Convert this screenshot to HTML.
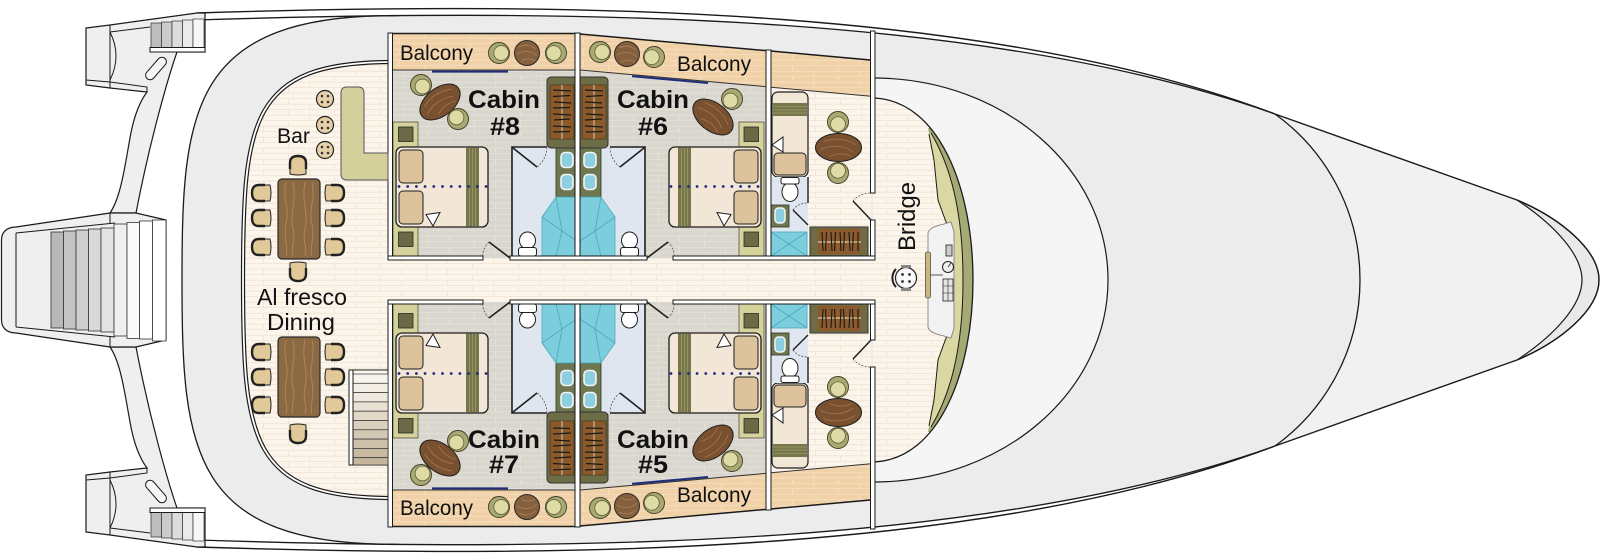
<!DOCTYPE html>
<html><head><meta charset="utf-8">
<style>
html,body{margin:0;padding:0;background:#fff;}
svg{display:block;}
text{font-family:"Liberation Sans",sans-serif;fill:#111;}
</style></head><body>
<svg width="1600" height="560" viewBox="0 0 1600 560" xmlns="http://www.w3.org/2000/svg">
<defs>
<pattern id="pc" width="46" height="11" patternUnits="userSpaceOnUse">
<rect width="46" height="11" fill="#fbf5ec"/>
<rect y="4.8" width="46" height="0.8" fill="#efe3d2"/>
<rect y="10.3" width="46" height="0.8" fill="#efe3d2"/>
<rect x="12" y="0" width="0.8" height="5" fill="#efe3d2"/>
<rect x="33" y="5.5" width="0.8" height="5" fill="#efe3d2"/>
</pattern>
<pattern id="pf" width="46" height="11" patternUnits="userSpaceOnUse">
<rect width="46" height="11" fill="#d9d6ce"/>
<rect y="4.8" width="46" height="0.9" fill="#e5e2db"/>
<rect y="10.3" width="46" height="0.9" fill="#e5e2db"/>
<rect x="14" y="0" width="0.9" height="5" fill="#e5e2db"/>
<rect x="35" y="5.5" width="0.9" height="5" fill="#e5e2db"/>
</pattern>
<pattern id="pb" width="46" height="11" patternUnits="userSpaceOnUse">
<rect width="46" height="11" fill="#f1d2a8"/>
<rect y="4.8" width="46" height="0.9" fill="#f6dfc2"/>
<rect y="10.3" width="46" height="0.9" fill="#f6dfc2"/>
<rect x="10" y="0" width="0.9" height="5" fill="#f6dfc2"/>
<rect x="31" y="5.5" width="0.9" height="5" fill="#f6dfc2"/>
</pattern>

<g id="tc">
<path d="M8,-8 L-3,-8 Q-10,-8 -10,0 Q-10,8 -3,8 L8,8 Q10,0 8,-8 Z" fill="#e2c99a" stroke="#222" stroke-width="1"/>
<path d="M3,-8 L-3,-8 Q-10,-8 -10,0 Q-10,8 -3,8 L3,8" fill="none" stroke="#222" stroke-width="2.4"/>
</g>
<g id="oc">
<circle r="10.5" fill="#a9a870" stroke="#3d3d28" stroke-width="0.9"/>
<circle cx="2.2" r="7.4" fill="#dedba5" stroke="#555538" stroke-width="0.7"/>
</g>
<g id="st">
<circle r="8.5" fill="#e6d0a8" stroke="#222" stroke-width="1.2"/>
<circle cx="-3" cy="-3" r="1.3" fill="#333"/><circle cx="3" cy="-3" r="1.3" fill="#333"/>
<circle cx="-3" cy="3" r="1.3" fill="#333"/><circle cx="3" cy="3" r="1.3" fill="#333"/>
</g>
<g id="bt">
<circle r="12.5" fill="#85603d" stroke="#2a2a2a" stroke-width="1"/>
<path d="M-8,-6 C-2,-9 4,-8 9,-4 M-10,1 C-3,-3 5,-2 10,3 M-6,8 C0,5 5,6 8,8" fill="none" stroke="#a98058" stroke-width="0.8"/>
</g>
<g id="ct">
<ellipse rx="23" ry="14" fill="#7a5130" stroke="#1e1e1e" stroke-width="1"/>
<path d="M-15,-6 C-5,-10 7,-9 17,-3 M-18,2 C-8,-3 6,-2 14,4 M-9,9 C-1,5 8,6 13,9" fill="none" stroke="#a37650" stroke-width="0.8"/>
</g>
<g id="dt">
<rect x="0" y="0" width="42" height="80" rx="4" fill="#8b6943" stroke="#2a2a2a" stroke-width="1.2"/>
<path d="M8,3 C4,20 12,30 8,45 C5,60 11,70 8,77 M15,3 C19,22 11,35 15,50 C18,62 12,70 15,77 M27,3 C23,22 31,35 27,50 C24,62 30,70 27,77 M34,3 C38,20 30,30 34,45 C37,60 31,70 34,77" fill="none" stroke="#b3865a" stroke-width="0.9"/>
</g>

<g id="core">
<rect x="393" y="122" width="25" height="134" fill="#d5d29e" stroke="#55553a" stroke-width="0.8"/>
<rect x="398.5" y="127" width="14.5" height="14.5" fill="#6b6a47" stroke="#2a2a20" stroke-width="0.8"/>
<rect x="398.5" y="232" width="14.5" height="14.5" fill="#6b6a47" stroke="#2a2a20" stroke-width="0.8"/>
<rect x="396" y="147" width="92" height="80" rx="6" fill="#f2e7d6" stroke="#1e1e1e" stroke-width="1.3"/>
<rect x="466" y="147.7" width="13" height="78.6" fill="#77764a"/>
<path d="M469.5,148 V226 M472.5,148 V226 M475.5,148 V226" stroke="#9c9b6a" stroke-width="0.8"/>
<rect x="399" y="150" width="24" height="33" rx="4" fill="#dcc39b" stroke="#1e1e1e" stroke-width="1"/>
<rect x="399" y="191" width="24" height="33" rx="4" fill="#dcc39b" stroke="#1e1e1e" stroke-width="1"/>
<line x1="399" y1="186.5" x2="487" y2="186.5" stroke="#1c2a7c" stroke-width="2.8" stroke-linecap="round" stroke-dasharray="0 8.7"/>
<path d="M426,214.5 L440,212.5 L433,226 Z" fill="#fff" stroke="#1e1e1e" stroke-width="1"/>
<rect x="512" y="147" width="65" height="110" fill="#dfe6ef"/>
<rect x="556" y="148" width="21" height="49" fill="#6e7750" stroke="#2e3320" stroke-width="0.8"/>
<rect x="561" y="152.5" width="12" height="15" rx="4" fill="#8dcfe0" stroke="#f4f4f4" stroke-width="1.6"/>
<rect x="561" y="174.5" width="12" height="15" rx="4" fill="#8dcfe0" stroke="#f4f4f4" stroke-width="1.6"/>
<path d="M542,217 L556,197 L577,197 L577,256 L542,256 Z" fill="#7dcedd" stroke="#49a9bb" stroke-width="0.8"/>
<path d="M556,197 L562,231 L577,241 M542,217 L562,231 L556,256" fill="none" stroke="#49a9bb" stroke-width="0.8"/>
<ellipse cx="527.5" cy="240.5" rx="8" ry="8.5" fill="#fff" stroke="#1e1e1e" stroke-width="1"/>
<rect x="518.5" y="247.5" width="18" height="8.5" rx="2.5" fill="#fff" stroke="#1e1e1e" stroke-width="1"/>
<path d="M512,257 L512,147 L547,147" fill="none" stroke="#1e1e1e" stroke-width="1.6"/>
<line x1="513" y1="148" x2="537" y2="167" stroke="#1e1e1e" stroke-width="1.6"/>
<path d="M537,167 Q546,160 547,148" fill="none" stroke="#555" stroke-width="0.8" stroke-dasharray="2 1.5"/>
<line x1="510" y1="258" x2="489" y2="242" stroke="#1e1e1e" stroke-width="1.6"/>
<path d="M489,242 Q482,249 483,258" fill="none" stroke="#555" stroke-width="0.8" stroke-dasharray="2 1.5"/>
</g>

<g id="U">
<rect x="771" y="86" width="100" height="172" fill="url(#pc)"/>
<rect x="392" y="34" width="183" height="36" fill="url(#pb)"/>
<polygon points="580,34 766,50.6 766,86.7 580,70" fill="url(#pb)"/>
<polygon points="771,51 871,60 871,96.2 771,87.2" fill="url(#pb)"/>
<rect x="392" y="70" width="183" height="188" fill="url(#pf)"/>
<polygon points="580,70 766,86.7 766,258 580,258" fill="url(#pf)"/>
<line x1="388" y1="33.5" x2="577" y2="33.5" stroke="#1a1a1a" stroke-width="1.6"/>
<line x1="577" y1="33.8" x2="768" y2="50.8" stroke="#1a1a1a" stroke-width="1.5"/>
<line x1="768" y1="50.8" x2="873" y2="60.2" stroke="#1a1a1a" stroke-width="1.5"/>
<line x1="392" y1="70" x2="575" y2="70" stroke="#333" stroke-width="1"/>
<line x1="580" y1="70" x2="766" y2="86.7" stroke="#333" stroke-width="1"/>
<line x1="771" y1="87.2" x2="871" y2="96.2" stroke="#333" stroke-width="1"/>
<line x1="432" y1="71.6" x2="508" y2="71.6" stroke="#1f2d78" stroke-width="2"/>
<line x1="632" y1="76.2" x2="708" y2="83" stroke="#1f2d78" stroke-width="2"/>
<use href="#core"/>
<use href="#core" transform="translate(1157,0) scale(-1,1)"/>
<rect x="547" y="77" width="61" height="71" rx="4" fill="#6d6c46" stroke="#333" stroke-width="1"/>
<rect x="550" y="85" width="24" height="54" fill="#8b5a2c" stroke="#3a2a1a" stroke-width="0.6"/>
<rect x="582" y="85" width="24" height="54" fill="#8b5a2c" stroke="#3a2a1a" stroke-width="0.6"/>
<path d="M562,85 V139 M594,85 V139" stroke="#dcc9a3" stroke-width="1"/>
<path d="M553,90 L571,91 M553,96.5 L570,95.5 M554,102 L571,103 M553,108 L570,107.5 M553,114 L571,115 M554,120 L570,119 M553,126 L571,127 M553,132 L570,131.5 M585,90 L603,91 M586,96.5 L603,95.5 M585,102 L602,103 M585,108 L603,107.5 M586,114 L603,115 M585,120 L602,119 M585,126 L603,127 M586,132 L603,131.5" stroke="#1a1a1a" stroke-width="1.2"/>
<use href="#ct" transform="translate(440,102) rotate(-38)"/>
<use href="#oc" transform="translate(421,85) rotate(45)"/>
<use href="#oc" transform="translate(458,119) rotate(225)"/>
<use href="#ct" transform="translate(713,117) rotate(38)"/>
<use href="#oc" transform="translate(732,99) rotate(135)"/>
<use href="#oc" transform="translate(499,53)"/>
<use href="#bt" transform="translate(527,53)"/>
<use href="#oc" transform="translate(556,53) rotate(180)"/>
<use href="#oc" transform="translate(600,52)"/>
<use href="#bt" transform="translate(627,54)"/>
<use href="#oc" transform="translate(654,57) rotate(175)"/>
<rect x="772" y="92" width="36" height="85" rx="6" fill="#f2e7d6" stroke="#1e1e1e" stroke-width="1.2"/>
<rect x="773" y="103" width="34" height="13" fill="#77764a"/>
<path d="M773,106.5 H807 M773,110 H807 M773,113 H807" stroke="#9c9b6a" stroke-width="0.8"/>
<rect x="774" y="153" width="32" height="22" rx="4" fill="#dcc39b" stroke="#1e1e1e" stroke-width="1"/>
<path d="M772,145 L783,137 L783,152 Z" fill="#fff" stroke="#1e1e1e" stroke-width="1"/>
<rect x="771" y="177" width="37" height="80" fill="#dfe6ef"/>
<ellipse cx="790" cy="192" rx="8" ry="9.5" fill="#fff" stroke="#1e1e1e" stroke-width="1"/>
<rect x="781" y="177.5" width="18" height="6.5" rx="2" fill="#fff" stroke="#1e1e1e" stroke-width="1"/>
<rect x="771" y="205" width="18" height="22" fill="#6e7750" stroke="#2e3320" stroke-width="0.8"/>
<rect x="775" y="208" width="10" height="15" rx="3.5" fill="#8dcfe0" stroke="#f4f4f4" stroke-width="1.5"/>
<rect x="771" y="232" width="36" height="24" fill="#7dcedd" stroke="#49a9bb" stroke-width="0.8"/>
<path d="M771,232 L807,256 M807,232 L771,256" stroke="#49a9bb" stroke-width="0.8"/>
<line x1="808" y1="177" x2="808" y2="203" stroke="#1e1e1e" stroke-width="1.4"/>
<line x1="793" y1="210" x2="808" y2="225" stroke="#1e1e1e" stroke-width="1.4"/>
<path d="M793,210 Q798,203 808,203" fill="none" stroke="#555" stroke-width="0.8" stroke-dasharray="2 1.5"/>
<rect x="810" y="227" width="58" height="29" fill="#6d6c46" stroke="#333" stroke-width="1"/>
<rect x="818" y="229" width="43" height="25" fill="#8b5a2c"/>
<line x1="818" y1="242" x2="861" y2="242" stroke="#dcc9a3" stroke-width="1.2"/>
<path d="M822,232 L823,251 M826.5,232 L825.5,251 M831,232 L832,251 M835.5,232 L834.5,251 M840,232 L841,251 M844.5,232 L843.5,251 M849,232 L850,251 M853.5,232 L852.5,251 M858,232 L858,251" stroke="#1a1a1a" stroke-width="1.1"/>
<use href="#ct" transform="translate(838.5,147.5)"/>
<use href="#oc" transform="translate(838,122) rotate(90)"/>
<use href="#oc" transform="translate(838,173) rotate(-90)"/>
<rect x="388" y="33" width="4.5" height="227" fill="#fff" stroke="#1a1a1a" stroke-width="1"/>
<rect x="575" y="33" width="5" height="227" fill="#fff" stroke="#1a1a1a" stroke-width="1"/>
<rect x="766" y="50" width="5" height="210" fill="#fff" stroke="#1a1a1a" stroke-width="1"/>
<rect x="870.5" y="31" width="4.5" height="162" fill="#fff" stroke="#1a1a1a" stroke-width="1"/>
<rect x="870.5" y="220" width="4.5" height="40" fill="#fff" stroke="#1a1a1a" stroke-width="1"/>
<rect x="388" y="256" width="95" height="4" fill="#fff" stroke="#1a1a1a" stroke-width="1"/>
<rect x="510" y="256" width="137" height="4" fill="#fff" stroke="#1a1a1a" stroke-width="1"/>
<rect x="673" y="256" width="202" height="4" fill="#fff" stroke="#1a1a1a" stroke-width="1"/>
<line x1="871" y1="220" x2="853" y2="201" stroke="#1e1e1e" stroke-width="1.5"/>
<path d="M853,201 Q860,193 871,193" fill="none" stroke="#555" stroke-width="0.8" stroke-dasharray="2 1.5"/>
</g>

<g id="wing">
<path d="M86,28 L110,25 L197,13 L205,13 L205,52 L177,52 C168,78 150,140 136,213 L110,213 C121,197 125,165 130,138 C134,115 141,100 147,92 L110,88 L86,85 Z" fill="#efefef" stroke="#1a1a1a" stroke-width="1.2"/>
<path d="M110,25 V88 M86,80 L110,82 L147,87 V92 M110,32 L150,27" fill="none" stroke="#1a1a1a" stroke-width="1"/>
<path d="M110,32 Q122,56 110,80" fill="none" stroke="#1a1a1a" stroke-width="1"/>
<rect x="151" y="23" width="10.5" height="25" fill="#bdbdbd" stroke="#333" stroke-width="0.7"/>
<rect x="161.5" y="22" width="10.5" height="26" fill="#cbcbcb" stroke="#333" stroke-width="0.7"/>
<rect x="172" y="21" width="10.5" height="27" fill="#dcdcdc" stroke="#333" stroke-width="0.7"/>
<rect x="182.5" y="20" width="10.5" height="28" fill="#eaeaea" stroke="#333" stroke-width="0.7"/>
<rect x="193" y="19" width="11" height="29" fill="#f7f7f7" stroke="#333" stroke-width="0.7"/>
<rect x="150" y="47.5" width="55" height="4.5" fill="#fff" stroke="#1a1a1a" stroke-width="1"/>
<rect x="151.5" y="55" width="9" height="27" rx="4.5" transform="rotate(41 156 68.5)" fill="#f6f6f6" stroke="#1a1a1a" stroke-width="1"/>
</g>
<clipPath id="cc"><polygon points="928,128 1000,128 1000,432 928,432 934,400 938,360 946,338 949,330 952,280 949,230 946,222 938,200 934,160"/></clipPath>
<clipPath id="cb"><path d="M873,98 C940,100 973,190 973,280 C973,370 940,460 873,462 Z"/></clipPath>
</defs>

<!-- bow -->
<path d="M1275,114 L1517,200 C1560,218 1599,250 1599,280 C1599,310 1560,342 1517,360 L1275,446 Z" fill="#f1f1f1"/>
<path d="M1517,200 C1560,218 1599,250 1599,280 C1599,310 1560,342 1517,360 C1555,335 1582,305 1582,280 C1582,255 1555,225 1517,200 Z" fill="#e9e9e9" stroke="#1a1a1a" stroke-width="1.2"/>
<!-- main deck -->
<path d="M399,15.6 C730.9,12.5 1046.2,32.5 1275,114 C1325,150 1360,210 1360,280 C1360,350 1325,410 1275,446 C1046.2,527.5 730.9,547.5 399,544.4 C190,546 182,450 182,280 C182,110 190,14 399,15.6 Z" fill="#ececec"/>
<path d="M873,78 C1005,78 1108,170 1108,280 C1108,390 1005,482 873,482 Z" fill="#f5f5f5"/>
<path d="M873,78 C1005,78 1108,170 1108,280 C1108,390 1005,482 873,482" fill="none" stroke="#1a1a1a" stroke-width="1.2"/>
<!-- hull band -->
<path d="M197,13 C600,0 1000,10 1275,114 C1000,16 600,7 197,20 Z" fill="#fff"/>
<path d="M197,547 C600,560 1000,550 1275,446 C1000,544 600,553 197,540 Z" fill="#fff"/>
<path d="M197,13 C600,0 1000,10 1275,114 L1517,200 C1560,218 1599,250 1599,280 C1599,310 1560,342 1517,360 L1275,446 C1000,550 600,560 197,547" fill="none" stroke="#1a1a1a" stroke-width="1.4"/>
<path d="M197,20 C600,7 1000,16 1275,114 C1325,150 1360,210 1360,280 C1360,350 1325,410 1275,446 C1000,544 600,553 197,540" fill="none" stroke="#1a1a1a" stroke-width="1.3"/>
<path d="M399,15.6 C190,14 182,110 182,280 C182,450 190,546 399,544.4" fill="none" stroke="#1a1a1a" stroke-width="1.3"/>

<!-- cream decks -->
<path d="M392,62 C250,62 243,120 243,280 C243,440 250,498 392,498 Z" fill="url(#pc)"/>
<path d="M392,62 C250,62 243,120 243,280 C243,440 250,498 392,498" fill="none" stroke="#1a1a1a" stroke-width="4.2"/>
<path d="M392,62 C250,62 243,120 243,280 C243,440 250,498 392,498" fill="none" stroke="#fff" stroke-width="1.8"/>
<rect x="388" y="256" width="490" height="48" fill="url(#pc)"/>
<path d="M873,98 C940,100 973,190 973,280 C973,370 940,460 873,462 Z" fill="url(#pc)"/>
<!-- console -->
<g clip-path="url(#cc)">
<g clip-path="url(#cb)">
<rect x="900" y="120" width="90" height="320" fill="#a5a974"/>
<path d="M931,133 C950,165 963,210 963,280 C963,350 950,395 931,427 L900,427 L900,133 Z" fill="#dad7a2"/>
</g>
</g>
<path d="M931,133 C950,165 963,210 963,280 C963,350 950,395 931,427" fill="none" stroke="#1a1a1a" stroke-width="1"/>
<path d="M929,134 L934,160 L938,200 L946,222 L949,230 L952,280 L949,330 L946,338 L938,360 L934,400 L929,426" fill="none" stroke="#1a1a1a" stroke-width="1"/>
<path d="M873,98 C940,100 973,190 973,280 C973,370 940,460 873,462" fill="none" stroke="#1a1a1a" stroke-width="1.3"/>
<path d="M928,233 C929,228 936,226 944,224 L951,222 L954,232 L954,328 L951,338 L944,336 C936,334 929,332 928,327 Z" fill="#f2f2f2" stroke="#777" stroke-width="0.8"/>
<rect x="925.5" y="252" width="5" height="46" rx="2" fill="#cdb483" stroke="#554" stroke-width="0.8"/>
<line x1="930" y1="275" x2="943" y2="275" stroke="#555" stroke-width="1"/>
<circle cx="948" cy="267" r="5.5" fill="#eee" stroke="#222" stroke-width="1"/>
<line x1="948" y1="267" x2="951" y2="263" stroke="#222" stroke-width="0.8"/>
<rect x="946" y="245" width="6" height="11" fill="#ccc" stroke="#222" stroke-width="0.8"/>
<rect x="943" y="279" width="10" height="22" fill="#e6e6e6" stroke="#222" stroke-width="0.8"/>
<path d="M943,286 H953 M943,293 H953 M948,279 V301" stroke="#222" stroke-width="0.6"/>
<circle cx="906" cy="278" r="10.5" fill="#fafafa" stroke="#222" stroke-width="1.2"/>
<circle cx="902.5" cy="274.5" r="1.4" fill="#333"/><circle cx="909.5" cy="274.5" r="1.4" fill="#333"/>
<circle cx="902.5" cy="281.5" r="1.4" fill="#333"/><circle cx="909.5" cy="281.5" r="1.4" fill="#333"/>
<path d="M896,269 A13,13 0 0 0 896,287" fill="none" stroke="#222" stroke-width="2"/>
<rect x="901" y="265" width="10" height="3" fill="#888"/>
<rect x="901" y="288" width="10" height="3" fill="#888"/>

<!-- cabins -->
<use href="#U"/>
<use href="#U" transform="translate(0,560) scale(1,-1)"/>

<!-- bar & dining -->
<path d="M347,87 L358,87 Q364,87 364,93 L364,153 L388,153 L388,180 L347,180 Q341,180 341,174 L341,93 Q341,87 347,87 Z" fill="#d4d09c" stroke="#555" stroke-width="1"/>
<use href="#st" transform="translate(325,99)"/>
<use href="#st" transform="translate(325,125)"/>
<use href="#st" transform="translate(325,150)"/>
<use href="#dt" transform="translate(278,179)"/>
<use href="#tc" transform="translate(262,193)"/>
<use href="#tc" transform="translate(262,218)"/>
<use href="#tc" transform="translate(262,247)"/>
<use href="#tc" transform="translate(334,193) rotate(180)"/>
<use href="#tc" transform="translate(334,218) rotate(180)"/>
<use href="#tc" transform="translate(334,247) rotate(180)"/>
<use href="#tc" transform="translate(298,166) rotate(90)"/>
<use href="#tc" transform="translate(298,271) rotate(-90)"/>
<use href="#dt" transform="translate(278,337)"/>
<use href="#tc" transform="translate(262,352)"/>
<use href="#tc" transform="translate(262,377)"/>
<use href="#tc" transform="translate(262,405)"/>
<use href="#tc" transform="translate(334,352) rotate(180)"/>
<use href="#tc" transform="translate(334,377) rotate(180)"/>
<use href="#tc" transform="translate(334,405) rotate(180)"/>
<use href="#tc" transform="translate(298,433) rotate(-90)"/>

<!-- deck stairs -->
<rect x="353" y="370" width="35" height="95" fill="#fbf8f2" stroke="#1a1a1a" stroke-width="1"/>
<rect x="353" y="374" width="35" height="9.3" fill="#f7f4ee" stroke="#333" stroke-width="0.7"/>
<rect x="353" y="383.3" width="35" height="9.3" fill="#f3efe7" stroke="#333" stroke-width="0.7"/>
<rect x="353" y="392.6" width="35" height="9.3" fill="#eee8de" stroke="#333" stroke-width="0.7"/>
<rect x="353" y="401.9" width="35" height="9.3" fill="#e8e1d4" stroke="#333" stroke-width="0.7"/>
<rect x="353" y="411.2" width="35" height="9.3" fill="#e1d8c8" stroke="#333" stroke-width="0.7"/>
<rect x="353" y="420.5" width="35" height="9.3" fill="#dad0bd" stroke="#333" stroke-width="0.7"/>
<rect x="353" y="429.8" width="35" height="9.3" fill="#d3c8b3" stroke="#333" stroke-width="0.7"/>
<rect x="353" y="439.1" width="35" height="9.3" fill="#cdc0a9" stroke="#333" stroke-width="0.7"/>
<rect x="353" y="448.4" width="35" height="9.3" fill="#c8baa1" stroke="#333" stroke-width="0.7"/>
<rect x="353" y="457.7" width="35" height="7.3" fill="#c4b59b" stroke="#333" stroke-width="0.7"/>
<rect x="349" y="370" width="4" height="95" fill="#fff" stroke="#1a1a1a" stroke-width="1"/>

<!-- stern -->
<use href="#wing"/>
<use href="#wing" transform="translate(0,560) scale(1,-1)"/>
<path d="M16,227 L110,213 L136,213 L166,220 L166,340 L136,347 L110,347 L16,333 C7,333 1.5,328 1.5,320 L1.5,240 C1.5,232 7,227 16,227 Z" fill="#efefef" stroke="#1a1a1a" stroke-width="1.2"/>
<path d="M16,233 L115,223 M16,327 L115,337 M16,233 V327 M110,213 V223 M110,337 V347" fill="none" stroke="#1a1a1a" stroke-width="1"/>
<rect x="51" y="232" width="12.5" height="96" fill="#b8b8b8" stroke="#333" stroke-width="0.8"/>
<rect x="63.5" y="231" width="12.5" height="98" fill="#c4c4c4" stroke="#333" stroke-width="0.8"/>
<rect x="76" y="230" width="12.5" height="100" fill="#cfcfcf" stroke="#333" stroke-width="0.8"/>
<rect x="88.5" y="229" width="12.5" height="102" fill="#d9d9d9" stroke="#333" stroke-width="0.8"/>
<rect x="101" y="228" width="13" height="104" fill="#e3e3e3" stroke="#333" stroke-width="0.8"/>
<rect x="114" y="224" width="13" height="112" fill="#efefef" stroke="#333" stroke-width="0.8"/>
<rect x="127" y="222.5" width="12.5" height="116" fill="#fafafa" stroke="#333" stroke-width="0.8"/>
<rect x="139.5" y="221" width="13" height="118" fill="#fff" stroke="#333" stroke-width="0.8"/>
<rect x="152.5" y="220" width="13.5" height="121" fill="#fff" stroke="#333" stroke-width="0.8"/>

<!-- labels -->
<text x="400" y="60" font-size="21" textLength="73" lengthAdjust="spacingAndGlyphs">Balcony</text>
<text x="677" y="71" font-size="21" textLength="74" lengthAdjust="spacingAndGlyphs">Balcony</text>
<text x="400" y="515" font-size="21" textLength="73" lengthAdjust="spacingAndGlyphs">Balcony</text>
<text x="677" y="502" font-size="21" textLength="74" lengthAdjust="spacingAndGlyphs">Balcony</text>
<text x="468" y="108" font-size="25" font-weight="bold" textLength="72" lengthAdjust="spacingAndGlyphs">Cabin</text>
<text x="490" y="135" font-size="25" font-weight="bold" textLength="30" lengthAdjust="spacingAndGlyphs">#8</text>
<text x="617" y="108" font-size="25" font-weight="bold" textLength="72" lengthAdjust="spacingAndGlyphs">Cabin</text>
<text x="638" y="135" font-size="25" font-weight="bold" textLength="30" lengthAdjust="spacingAndGlyphs">#6</text>
<text x="468" y="448" font-size="25" font-weight="bold" textLength="72" lengthAdjust="spacingAndGlyphs">Cabin</text>
<text x="489" y="473" font-size="25" font-weight="bold" textLength="30" lengthAdjust="spacingAndGlyphs">#7</text>
<text x="617" y="448" font-size="25" font-weight="bold" textLength="72" lengthAdjust="spacingAndGlyphs">Cabin</text>
<text x="638" y="473" font-size="25" font-weight="bold" textLength="30" lengthAdjust="spacingAndGlyphs">#5</text>
<text x="277" y="143" font-size="21" textLength="33" lengthAdjust="spacingAndGlyphs">Bar</text>
<text x="257" y="305" font-size="23" textLength="90" lengthAdjust="spacingAndGlyphs">Al fresco</text>
<text x="267" y="330" font-size="23" textLength="68" lengthAdjust="spacingAndGlyphs">Dining</text>
<text transform="translate(915,251) rotate(-90)" font-size="24" textLength="69" lengthAdjust="spacingAndGlyphs">Bridge</text>
</svg>
</body></html>
